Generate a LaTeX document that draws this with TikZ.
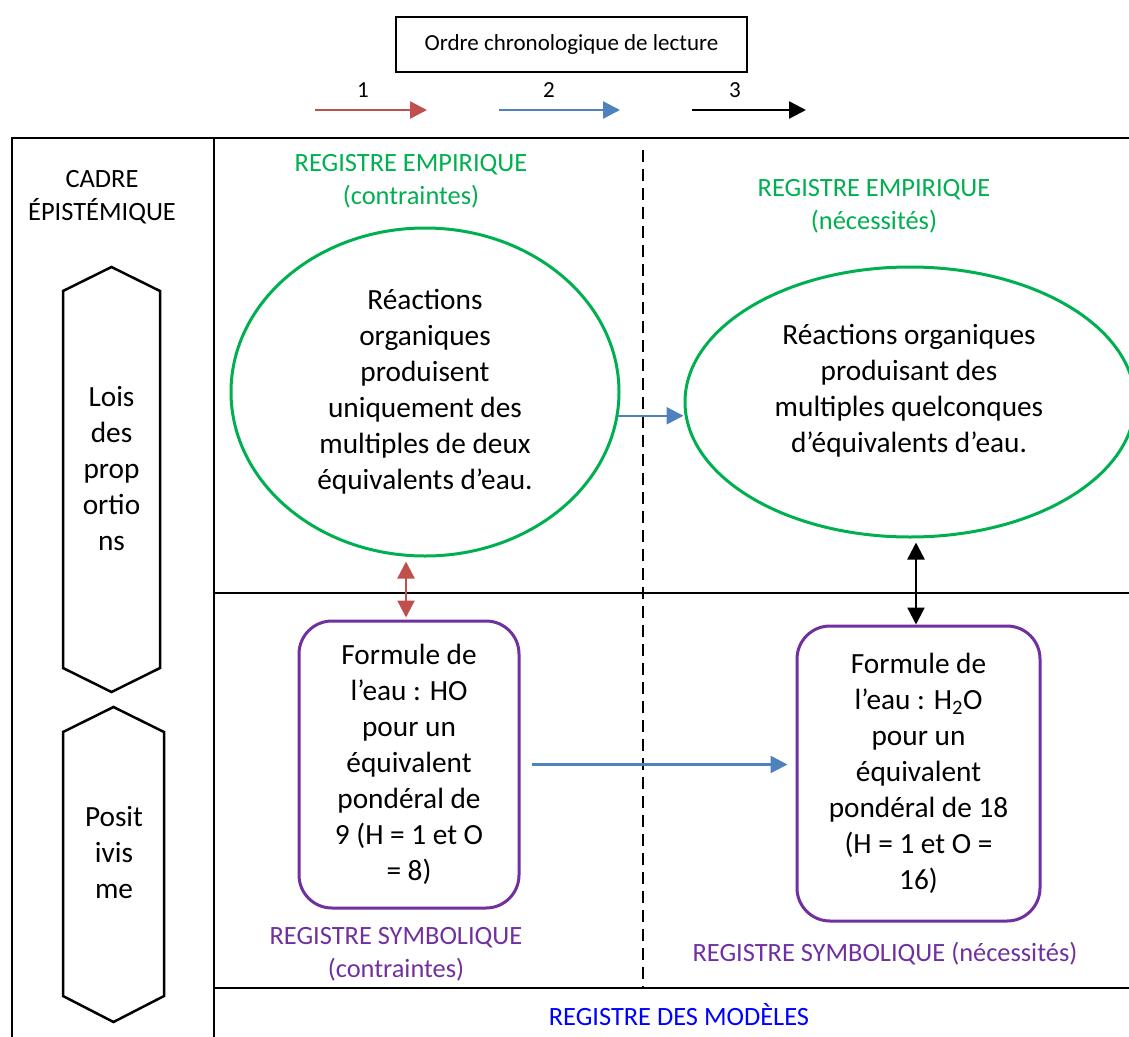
\documentclass[tikz,border=0pt]{standalone}
\usepackage{fontspec}
\setmainfont{Carlito}
\usetikzlibrary{positioning}
\usetikzlibrary{shapes}
\usetikzlibrary{shapes.geometric}
\usetikzlibrary{arrows.meta}
\definecolor{empgreen}{RGB}{0,176,80}
\definecolor{sympurple}{RGB}{112,48,160}
\definecolor{modblue}{RGB}{0,0,255}
\definecolor{arrred}{RGB}{192,80,77}
\definecolor{arrblue}{RGB}{79,129,189}
\tikzset{
  every node/.append style={align=center, inner sep=0pt},
  every path/.append style={line width=2.5pt},
  txtbody/.style={font=\fontsize{29.3}{36}\selectfont},
  txtlabel/.style={font=\fontsize{26.4}{33}\selectfont},
  txtsmall/.style={font=\fontsize{23}{28}\selectfont}
}
\tikzstyle{arrow} = [-{Triangle[length=17pt,width=17pt]}]
\tikzstyle{biarrow} = [{Triangle[length=17pt,width=17pt]}-{Triangle[length=17pt,width=17pt]}]
\tikzstyle{greenell} = [ellipse, draw=empgreen, line width=3pt, txtbody]
\tikzstyle{symbox} = [rectangle, rounded corners=33pt, draw=sympurple, line width=3pt, txtbody]

\begin{document}
\begin{tikzpicture}[x=1pt, y=-1pt]
  \useasboundingbox (0,0) rectangle (1129,1036);

  % legend
  \node[draw, line width=2pt, minimum width=351, minimum height=55, txtsmall] (order) at (571.5,44.5) {Ordre chronologique de lecture};
  \node[txtsmall] (n1) at (363,90) {1};
  \node[txtsmall] (n2) at (549,90) {2};
  \node[txtsmall] (n3) at (735,90) {3};
  \coordinate (l1a) at (315,110); \coordinate (l1b) at (427,110);
  \coordinate (l2a) at (499,110); \coordinate (l2b) at (620,110);
  \coordinate (l3a) at (692,110); \coordinate (l3b) at (806,110);
  \draw[arrow, arrred] (l1a) -- (l1b);
  \draw[arrow, arrblue] (l2a) -- (l2b);
  \draw[arrow, black] (l3a) -- (l3b);

  % frame
  \draw (1135,138) -- (12,138) -- (12,1040);
  \draw (214,138) -- (214,1040);
  \draw (214,593) -- (1135,593);
  \draw (214,988) -- (1135,988);
  \draw[dash pattern=on 12pt off 7pt] (643,150) -- (643,987);

  % left column
  \node[txtlabel] (cadre) at (102,197) {CADRE\\ÉPISTÉMIQUE};
  \draw (63,291) -- (111.5,267) -- (160,291) -- (160,668) -- (111.5,692) -- (63,668) -- cycle;
  \node[txtbody] (lois) at (111.5,468.5) {Lois\\des\\prop\\ortio\\ns};
  \draw (63,732) -- (113.5,707) -- (164,732) -- (164,996) -- (113.5,1022) -- (63,996) -- cycle;
  \node[txtbody] (posit) at (114,852.5) {Posit\\ivis\\me};

  % registers
  \node[txtlabel, text=empgreen] (empC) at (411,181.5) {REGISTRE EMPIRIQUE\\(contraintes)};
  \node[txtlabel, text=empgreen] (empN) at (874,206) {REGISTRE EMPIRIQUE\\(nécessités)};
  \node[txtlabel, text=sympurple] (symC) at (396,954) {REGISTRE SYMBOLIQUE\\(contraintes)};
  \node[txtlabel, text=sympurple] (symN) at (885,954) {REGISTRE SYMBOLIQUE (nécessités)};
  \node[txtlabel, text=modblue] (modeles) at (679,1015) {REGISTRE DES MODÈLES};

  \node[greenell, minimum width=388, minimum height=328] (ellL) at (425,392) {Réactions\\organiques\\produisent\\uniquement des\\multiples de deux\\équivalents d’eau.};
  \node[greenell, minimum width=450, minimum height=270] (ellR) at (910,402) {};
  \node[txtbody] (ellRtxt) at (909,391) {Réactions organiques\\produisant des\\multiples quelconques\\d’équivalents d’eau.};

  \node[symbox, minimum width=220, minimum height=287] (boxL) at (409,764.5) {Formule de\\l’eau : HO\\pour un\\équivalent\\pondéral de\\9 (H = 1 et O\\= 8)};
  \node[symbox, minimum width=243, minimum height=295] (boxR) at (918.5,773.5) {Formule de\\l’eau : H\textsubscript{2}O\\pour un\\équivalent\\pondéral de 18\\(H = 1 et O =\\16)};

  % links
  \coordinate (redx) at (406,0);
  \coordinate (blackx) at (916,0);
  \draw[biarrow, arrred, shorten <=4pt, shorten >=2pt] (ellL.south -| redx) -- (boxL.north -| redx);
  \draw[biarrow, black, shorten <=4pt] (ellR.south -| blackx) -- (boxR.north -| blackx);
  \draw[arrow, arrblue] (ellL.-7) -- (ellL.-7 -| ellR.west);
  \draw[arrow, arrblue, shorten <=11pt, shorten >=8pt] (boxL.east) -- (boxL.east -| boxR.west);
\end{tikzpicture}
\end{document}
